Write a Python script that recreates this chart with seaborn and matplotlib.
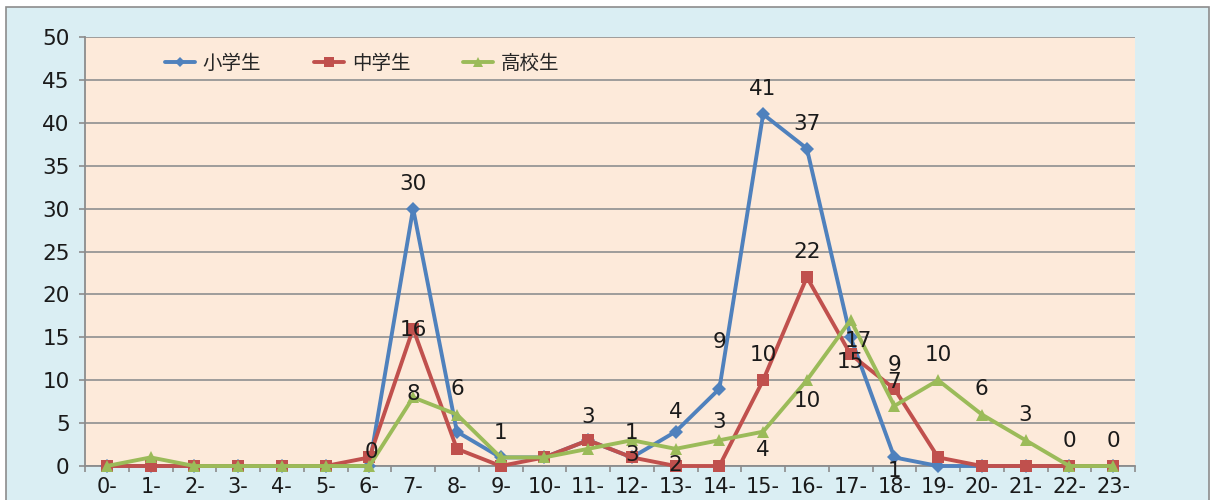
import numpy as np
import pandas as pd
import matplotlib
matplotlib.use("Agg")
import matplotlib.pyplot as plt
from matplotlib.patches import Rectangle
import seaborn as sns

hours = list(range(24))
hour_labels = [f"{h}-" for h in hours]
series_names = ["小学生", "中学生", "高校生"]
elementary = [0, 0, 0, 0, 0, 0, 0, 30, 4, 1, 1, 3, 1, 4, 9, 41, 37, 15, 1, 0, 0, 0, 0, 0]
junior = [0, 0, 0, 0, 0, 0, 1, 16, 2, 0, 1, 3, 1, 0, 0, 10, 22, 13, 9, 1, 0, 0, 0, 0]
senior = [0, 1, 0, 0, 0, 0, 0, 8, 6, 1, 1, 2, 3, 2, 3, 4, 10, 17, 7, 10, 6, 3, 0, 0]

colors = ["#4F81BD", "#C0504D", "#9BBB59"]

sns.set_theme(style="white")
plt.rcParams["font.family"] = ["DejaVu Sans", "Noto Sans CJK JP"]

df = pd.DataFrame({
    "hour": hours * 3,
    "count": elementary + junior + senior,
    "series": [series_names[0]] * 24 + [series_names[1]] * 24 + [series_names[2]] * 24,
})

fig = plt.figure(figsize=(12.11, 5.0), dpi=100, facecolor="white")
bg = Rectangle((6 / 1211, -0.02), 1203 / 1211, 1.02 - 7 / 500,
               transform=fig.transFigure, facecolor="#DAEEF3",
               edgecolor="#8C8C8C", linewidth=1.2, zorder=-10)
fig.patches.append(bg)
ax = fig.add_axes([85 / 1211, 34 / 500, (1135 - 85) / 1211, (466 - 37) / 500])
ax.set_zorder(1)
ax.set_facecolor("#FDEADA")

sns.lineplot(data=df, x="hour", y="count", hue="series", style="series",
             hue_order=series_names, style_order=series_names,
             palette=dict(zip(series_names, colors)),
             markers={series_names[0]: "D", series_names[1]: "s", series_names[2]: "^"},
             dashes=False, linewidth=2.8, markersize=9, markeredgewidth=0,
             ax=ax, zorder=3, clip_on=False)
for ln in ax.lines:
    if ln.get_marker() == "D":
        ln.set_markersize(6.8)

ax.set_xlim(-0.5, 23.5)
ax.set_ylim(0, 50)
ax.set_yticks(np.arange(0, 51, 5))
ax.set_xticks(hours)
ax.set_xticklabels(hour_labels)
ax.set_xticks(np.arange(-0.5, 24, 1), minor=True)
ax.set_xlabel("")
ax.set_ylabel("")
ax.grid(axis="y", color="#969696", linewidth=1.3)
ax.grid(axis="x", visible=False)
ax.set_axisbelow(True)
for s in ["top", "right"]:
    ax.spines[s].set_visible(False)
for s in ["left", "bottom"]:
    ax.spines[s].set_color("#8C8C8C")
    ax.spines[s].set_linewidth(1.3)
ax.tick_params(axis="y", which="major", left=True, length=4, width=1.2, color="#8C8C8C",
               labelsize=15.5, pad=7, labelcolor="#1a1a1a")
ax.tick_params(axis="x", which="major", bottom=False, length=0, labelsize=15, pad=8,
               labelcolor="#1a1a1a")
ax.tick_params(axis="x", which="minor", bottom=True, length=4, width=1.2, color="#8C8C8C")

# data labels: (series index, hour, dx px, dy px upward)
label_specs = [
    (0, 6, 2, 14), (0, 7, 0, 25), (0, 9, 0, 24), (0, 12, 0, 24), (0, 13, 0, 20),
    (0, 14, 0, 47), (0, 15, 0, 25), (0, 16, 0, 25), (0, 17, 0, -25), (0, 18, 0, -14),
    (1, 7, 0, -1), (1, 11, 0, 23), (1, 15, 0, 25), (1, 16, 0, 25), (1, 18, 0, 24),
    (2, 7, 0, 3), (2, 8, 0, 26), (2, 12, 0, -15), (2, 13, 0, -16), (2, 14, 0, 18),
    (2, 15, 0, -18), (2, 16, 0, -21), (2, 17, 8, -21), (2, 18, 0, 24), (2, 19, 0, 25),
    (2, 20, 0, 26), (2, 21, 0, 25), (2, 22, 0, 25), (2, 23, 0, 25),
]
all_series = [elementary, junior, senior]
for si, h, dx, dy in label_specs:
    v = all_series[si][h]
    ax.annotate(str(v), (h, v), xytext=(dx, dy), textcoords="offset pixels",
                ha="center", va="center", fontsize=15.5, color="#1a1a1a", zorder=5)

handles, labels = ax.get_legend_handles_labels()
leg = ax.legend(handles, labels, loc="center left", bbox_to_anchor=(0.076, 0.939),
                ncol=3, frameon=False, handlelength=1.55, handletextpad=0.4,
                columnspacing=2.7, borderaxespad=0, borderpad=0,
                prop={"family": ["Noto Sans CJK JP"], "size": 14})
for h in leg.legend_handles:
    m = h.get_marker()
    h.set_markersize(5.5 if m == "D" else 7)

fig.savefig("out.png", dpi=100, facecolor="white")
